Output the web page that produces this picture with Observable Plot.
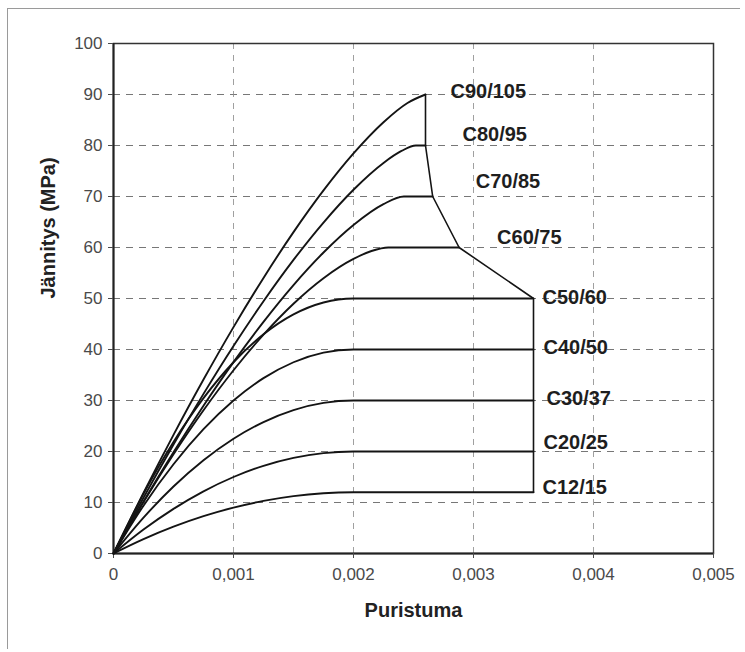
<!DOCTYPE html>
<html>
<head>
<meta charset="utf-8">
<script src="https://cdn.jsdelivr.net/npm/d3@7"></script>
<script src="https://cdn.jsdelivr.net/npm/@observablehq/plot@0.6"></script>
<style>
  html, body { margin: 0; padding: 0; background: #fff; }
  #wrap { position: relative; width: 745px; height: 652px; }
  #outer { position: absolute; left: 7px; top: 8px; width: 732px; height: 640px;
           border-top: 1.5px solid #9a9a9a; border-left: 1.5px solid #9a9a9a; pointer-events: none; }
</style>
</head>
<body>
<div id="wrap"><div id="outer"></div></div>
<script>
// Concrete grades (labels) and their characteristic strength
const grades = ["C12/15","C20/25","C30/37","C40/50","C50/60","C60/75","C70/85","C80/95","C90/105"];
const fck    = [12, 20, 30, 40, 50, 60, 70, 80, 90];

// Strain values (per mille)
const strainNormal = [0, 0.25, 0.5, 0.75, 1.0, 1.25, 1.5, 1.75, 2.0, 3.5];
const strainC60 = [0, 0.25, 0.5, 0.75, 1.0, 1.25, 1.5, 1.75, 2.0, 2.15, 2.29, 2.88];
const strainC70 = [0, 0.25, 0.5, 0.75, 1.0, 1.25, 1.5, 1.75, 2.0, 2.25, 2.42, 2.66];
const strainC80 = [0, 0.25, 0.5, 0.75, 1.0, 1.25, 1.5, 1.75, 2.0, 2.25, 2.4, 2.52, 2.60];
const strainC90 = [0, 0.25, 0.5, 0.75, 1.0, 1.25, 1.5, 1.75, 2.0, 2.25, 2.45, 2.6];

// Stress values (MPa)
const stressC12 = [0, 2.81, 5.25, 7.31, 9.0, 10.31, 11.25, 11.81, 12, 12];
const stressC20 = [0, 4.69, 8.75, 12.19, 15.0, 17.19, 18.75, 19.69, 20, 20];
const stressC30 = [0, 7.03, 13.13, 18.28, 22.5, 25.78, 28.13, 29.53, 30, 30];
const stressC40 = [0, 9.38, 17.5, 24.38, 30.0, 34.38, 37.5, 39.38, 40, 40];
const stressC50 = [0, 11.72, 21.88, 30.47, 37.5, 42.97, 46.88, 49.22, 50, 50];
const stressC60 = [0, 10.08, 19.45, 28.09, 35.93, 42.92, 48.98, 53.99, 57.77, 59.31, 60, 60];
const stressC70 = [0, 10.17, 19.84, 28.97, 37.52, 45.43, 52.64, 59.02, 64.42, 68.51, 70, 70];
const stressC80 = [0, 10.92, 21.36, 31.30, 40.69, 49.47, 57.57, 64.90, 71.33, 76.58, 78.93, 80, 80];
const stressC90 = [0, 11.88, 23.26, 34.11, 44.39, 54.04, 63.01, 71.19, 78.45, 84.57, 88.34, 90];

// Tick values
const xTicks = [0, 0.001, 0.002, 0.003, 0.004, 0.005];
const yTicks = [0, 10, 20, 30, 40, 50, 60, 70, 80, 90, 100];

const strains = [strainNormal, strainNormal, strainNormal, strainNormal, strainNormal, strainC60, strainC70, strainC80, strainC90];
const stresses = [stressC12, stressC20, stressC30, stressC40, stressC50, stressC60, stressC70, stressC80, stressC90];

const rows = grades.flatMap((g, i) => strains[i].map((e, j) => ({grade: g, e: e / 1000, s: stresses[i][j]})));
const ends = grades.map((g, i) => {
  const k = strains[i].length - 1;
  return {grade: g, e: strains[i][k] / 1000, s: stresses[i][k]};
}).reverse();

// label offsets (pixels) relative to each curve's end point
const labelDx = {"C12/15": 9, "C20/25": 10, "C30/37": 13, "C40/50": 10, "C50/60": 9, "C60/75": 38, "C70/85": 43, "C80/95": 37, "C90/105": 25};
const labelDy = {"C12/15": -5, "C20/25": -9, "C30/37": -2, "C40/50": -2, "C50/60": -1, "C60/75": -10, "C70/85": -15, "C80/95": -11, "C90/105": -3};

const font = "'Liberation Sans', Arial, Helvetica, sans-serif";
const fmt = d => d === 0 ? "0" : d.toFixed(3).replace(".", ",");

const chart = Plot.plot({
  width: 745,
  height: 652,
  marginLeft: 113,
  marginRight: 32,
  marginTop: 43,
  marginBottom: 99,
  style: {fontFamily: font, fontSize: "17px", color: "#4a4a4a", background: "transparent"},
  x: {domain: [0, 0.005], label: null},
  y: {domain: [0, 100], label: null},
  marks: [
    Plot.ruleY(yTicks.filter(d => d > 0 && d < 100), {stroke: "#555", strokeDasharray: "7,6", strokeWidth: 1, strokeOpacity: 0.8}),
    Plot.ruleX(xTicks.filter(d => d > 0 && d < 0.005), {stroke: "#888", strokeDasharray: "6,6", strokeWidth: 1, strokeOpacity: 0.8}),
    Plot.frame({stroke: "#333", strokeWidth: 1.5}),
    Plot.ruleX([0], {stroke: "#222", strokeWidth: 2}),
    Plot.ruleY([0], {stroke: "#222", strokeWidth: 2}),
    Plot.axisX(xTicks, {tickFormat: fmt, tickSize: 5, tickPadding: 9, fontSize: 17, label: null}),
    Plot.axisY(yTicks, {tickSize: 5, tickPadding: 6, fontSize: 17, label: null}),
    Plot.line(rows, {x: "e", y: "s", z: "grade", curve: "monotone-x", stroke: "#141414", strokeWidth: 1.9}),
    Plot.line(ends, {x: "e", y: "s", stroke: "#141414", strokeWidth: 1.6}),
    Plot.text(ends, {x: "e", y: "s", text: "grade", textAnchor: "start", lineAnchor: "middle",
      dx: 0, dy: 0, fontSize: 20, fontWeight: "bold", fill: "#1e1e1e", fontFamily: font,
      render: (index, scales, values, dims, context, next) => {
        const g = next(index, scales, values, dims, context);
        d3.select(g).selectAll("text").each(function(_, k) {
          const i = index[k];
          const gr = ends[i].grade;
          d3.select(this).attr("transform", `translate(${values.x[i] + labelDx[gr]},${values.y[i] + labelDy[gr]})`);
        });
        return g;
      }}),
    Plot.text(["Jännitys (MPa)"], {frameAnchor: "left", dx: -65, rotate: -90, fontSize: 20, fontWeight: "bold", fill: "#222", fontFamily: font}),
    Plot.text(["Puristuma"], {frameAnchor: "bottom", dy: 63, fontSize: 20, fontWeight: "bold", fill: "#222", fontFamily: font})
  ]
});
document.getElementById("wrap").prepend(chart);
</script>
</body>
</html>
